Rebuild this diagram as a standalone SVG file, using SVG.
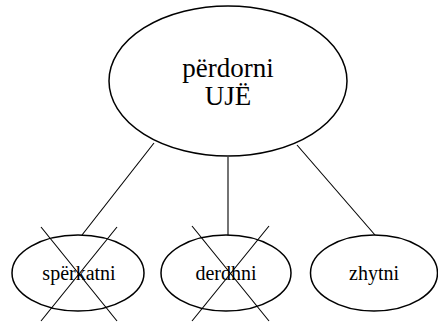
<svg xmlns="http://www.w3.org/2000/svg" width="438" height="327" viewBox="0 0 438 327">
<style>
.n{fill:#fff;stroke:#000;stroke-width:1.5}
.c{stroke:#000;stroke-width:1.1;fill:none}
.x{stroke:#000;stroke-width:1.1;fill:none}
.t1{font-family:'Liberation Serif',serif;font-size:27px;fill:#000;text-anchor:middle}
.t2{font-family:'Liberation Serif',serif;font-size:20px;fill:#000;text-anchor:middle}
</style>
<rect width="438" height="327" fill="#fff"/>
<g id="connectors">
<line class="c" x1="154" y1="143" x2="82" y2="235"/>
<line class="c" x1="228" y1="157" x2="228" y2="235"/>
<line class="c" x1="297" y1="145" x2="375" y2="235"/>
</g>
<g id="root">
<ellipse class="n" cx="228" cy="81" rx="119" ry="75"/>
<text class="t1" x="228" y="77">përdorni</text>
<text class="t1" x="228" y="105">UJË</text>
</g>
<g id="sperkatni">
<ellipse class="n" cx="78" cy="273" rx="66" ry="38"/>
<text class="t2" x="79" y="280">spërkatni</text>
<line class="x" x1="41" y1="227" x2="117" y2="321"/>
<line class="x" x1="117" y1="227" x2="41" y2="321"/>
</g>
<g id="derdhni">
<ellipse class="n" cx="226" cy="273" rx="65" ry="38"/>
<text class="t2" x="226" y="280">derdhni</text>
<line class="x" x1="192" y1="226" x2="269" y2="321"/>
<line class="x" x1="269" y1="226" x2="192" y2="321"/>
</g>
<g id="zhytni">
<ellipse class="n" cx="374" cy="273" rx="63.5" ry="38"/>
<text class="t2" x="374" y="280">zhytni</text>
</g>
</svg>
